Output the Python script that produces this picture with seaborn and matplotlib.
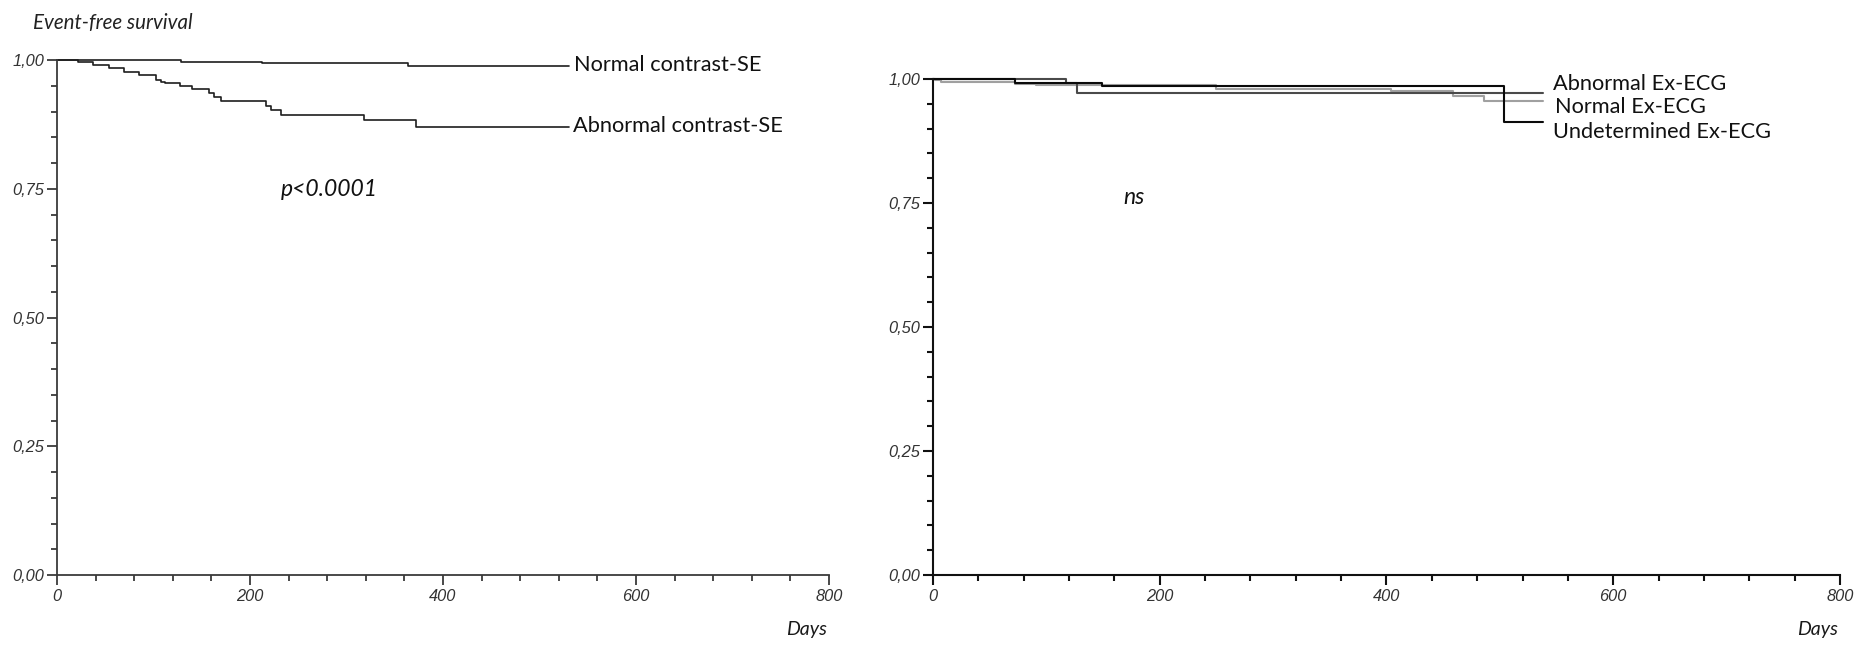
import numpy as np
import pandas as pd
import matplotlib
matplotlib.use("Agg")
import matplotlib.pyplot as plt
import seaborn as sns
from matplotlib.ticker import MultipleLocator, FixedLocator, FixedFormatter

# Left panel: contrast stress echocardiography (Kaplan-Meier steps)
se_normal_days = [0, 129, 212, 364]
se_normal_surv = [1.0, 0.9968, 0.9948, 0.989]
se_abnormal_days = [0, 22, 37, 54, 69, 85, 103, 108, 112, 127, 140, 158,
                    163, 170, 217, 222, 232, 318, 372]
se_abnormal_surv = [1.0, 0.996, 0.9896, 0.9844, 0.9766, 0.970, 0.962, 0.957,
                    0.9545, 0.949, 0.943, 0.935, 0.928, 0.921, 0.910, 0.903,
                    0.893, 0.883, 0.870]
se_followup_end = 531

# Right panel: exercise ECG (Kaplan-Meier steps)
ecg_abnormal_days = [0, 117, 127]
ecg_abnormal_surv = [1.0, 0.991, 0.971]
ecg_normal_days = [0, 2, 7, 72, 91, 250, 404, 459, 486]
ecg_normal_surv = [1.0, 0.998, 0.993, 0.989, 0.987, 0.979, 0.976, 0.966, 0.956]
ecg_undet_days = [0, 72, 149, 504]
ecg_undet_surv = [1.0, 0.991, 0.986, 0.914]
ecg_followup_end = 538

y_tick_values = [0.0, 0.25, 0.5, 0.75, 1.0]
y_tick_labels = ["0,00", "0,25", "0,50", "0,75", "1,00"]
x_tick_values = [0, 200, 400, 600, 800]
x_tick_labels = ["0", "200", "400", "600", "800"]


def km_frame(days, surv, end, group):
    t = list(days) + [end]
    s = list(surv) + [surv[-1]]
    return pd.DataFrame({"Days": t, "Survival": s, "Group": group})


sns.set_style("ticks")
plt.rcParams["font.family"] = ["Lato", "DejaVu Sans"]

fig = plt.figure(figsize=(18.58, 6.46), dpi=100)
axL = fig.add_axes([57 / 1858, 71 / 646, 772 / 1858, 515 / 646])
axR = fig.add_axes([933 / 1858, 71 / 646, 907 / 1858, 496 / 646])

tick_font = dict(family="Liberation Sans", style="italic", size=11.8)


def style_axes(ax, axis_color, lw):
    ax.set_xlim(0, 800)
    ax.set_ylim(0, 1)
    for side in ("top", "right"):
        ax.spines[side].set_visible(False)
    for side in ("left", "bottom"):
        ax.spines[side].set_color(axis_color)
        ax.spines[side].set_linewidth(lw)
    ax.xaxis.set_major_locator(FixedLocator(x_tick_values))
    ax.xaxis.set_major_formatter(FixedFormatter(x_tick_labels))
    ax.yaxis.set_major_locator(FixedLocator(y_tick_values))
    ax.yaxis.set_major_formatter(FixedFormatter(y_tick_labels))
    ax.xaxis.set_minor_locator(MultipleLocator(40))
    ax.yaxis.set_minor_locator(MultipleLocator(0.05))
    ax.tick_params(which="major", length=7.5, width=lw, color=axis_color,
                   direction="out", pad=1.5)
    ax.tick_params(which="minor", length=4.5, width=lw, color=axis_color,
                   direction="out")
    ax.tick_params(axis="x", which="major", pad=2.5)
    for lab in ax.get_xticklabels() + ax.get_yticklabels():
        lab.set_fontfamily(tick_font["family"])
        lab.set_fontstyle(tick_font["style"])
        lab.set_fontsize(tick_font["size"])
        lab.set_color("#333333")
    ax.set_xlabel("")
    ax.set_ylabel("")
    ax.annotate("Days", xy=(800, 0), xycoords=("data", "axes fraction"),
                xytext=(-2, -55), textcoords="offset pixels",
                ha="right", va="center", fontsize=14, style="italic",
                color="#1a1a1a")


# ---- left panel ----
se_df = pd.concat([
    km_frame(se_normal_days, se_normal_surv, se_followup_end, "Normal contrast-SE"),
    km_frame(se_abnormal_days, se_abnormal_surv, se_followup_end, "Abnormal contrast-SE"),
], ignore_index=True)
sns.lineplot(data=se_df, x="Days", y="Survival", hue="Group",
             palette={"Normal contrast-SE": "#1e1e1e",
                      "Abnormal contrast-SE": "#1e1e1e"},
             estimator=None, sort=False, drawstyle="steps-post",
             linewidth=1.2, legend=False, clip_on=False, ax=axL)
style_axes(axL, "#3a3a3a", 1.3)

label_kw = dict(fontsize=15.7, color="#111111", va="center", ha="left")
axL.annotate("Normal contrast-SE", xy=(se_followup_end, se_normal_surv[-1]),
             xytext=(5, 1), textcoords="offset pixels", **label_kw)
axL.annotate("Abnormal contrast-SE", xy=(se_followup_end, se_abnormal_surv[-1]),
             xytext=(4, 1), textcoords="offset pixels", **label_kw)
axL.text(232, 0.748, "p<0.0001", fontsize=16.5, style="italic",
         color="#111111", ha="left", va="center")
fig.text(33 / 1858, 1 - 23 / 646, "Event-free survival", fontsize=14.8,
         style="italic", color="#222222", ha="left", va="center")

# ---- right panel ----
ecg_df = pd.concat([
    km_frame(ecg_normal_days, ecg_normal_surv, ecg_followup_end, "Normal Ex-ECG"),
    km_frame(ecg_abnormal_days, ecg_abnormal_surv, ecg_followup_end, "Abnormal Ex-ECG"),
    km_frame(ecg_undet_days, ecg_undet_surv, ecg_followup_end, "Undetermined Ex-ECG"),
], ignore_index=True)
sns.lineplot(data=ecg_df, x="Days", y="Survival", hue="Group",
             palette={"Normal Ex-ECG": "#a0a0a0",
                      "Abnormal Ex-ECG": "#4a4a4a",
                      "Undetermined Ex-ECG": "#0a0a0a"},
             estimator=None, sort=False, drawstyle="steps-post",
             linewidth=1.5, legend=False, clip_on=False, ax=axR)
style_axes(axR, "#111111", 1.5)

axR.text(ecg_followup_end + 9, 0.990, "Abnormal Ex-ECG", **label_kw)
axR.text(ecg_followup_end + 11, 0.9435, "Normal Ex-ECG", **label_kw)
axR.text(ecg_followup_end + 9, 0.893, "Undetermined Ex-ECG", **label_kw)
axR.text(177, 0.762, "ns", fontsize=16.5, style="italic", color="#111111",
         ha="center", va="center")

fig.savefig("out.png", dpi=100)
